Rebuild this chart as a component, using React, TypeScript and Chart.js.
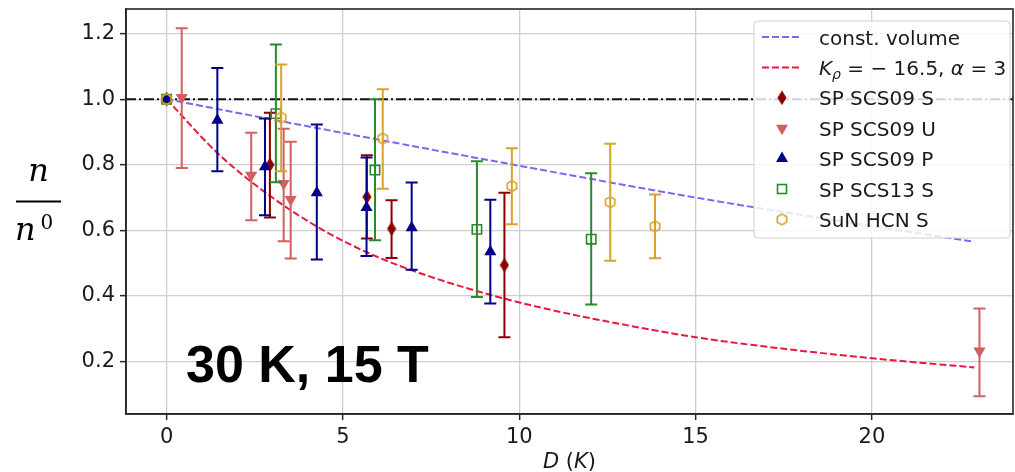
import React, { useEffect, useRef } from "react";
import { Chart, registerables } from "chart.js";

Chart.register(...registerables);

// ---------- axes ----------
const X_MIN = -1.15;
const X_MAX = 24.0;
const Y_MIN = 0.04;
const Y_MAX = 1.275;
const X_TICKS = [0, 5, 10, 15, 20];
const Y_TICKS = [0.2, 0.4, 0.6, 0.8, 1.0, 1.2];

// ---------- model curves ----------
const CV_D = [0, 5, 10, 15, 20, 22.9];
const CV_N = [1.0, 0.897, 0.797, 0.7, 0.613, 0.565];

const K_D = [0, 1.5, 3, 4.5, 6, 7.5, 9.5, 11, 12.5, 15, 17.5, 20, 22.9];
const K_N = [1.0, 0.83, 0.7, 0.597, 0.518, 0.458, 0.394, 0.355, 0.322, 0.274, 0.239, 0.21, 0.182];

// ---------- SP SCS09 S ----------
const S_D = [0, 2.93, 5.68, 6.38, 9.58];
const S_N = [1.0, 0.8, 0.702, 0.605, 0.494];
const S_LO = [1.0, 0.639, 0.575, 0.516, 0.274];
const S_HI = [1.0, 0.959, 0.829, 0.692, 0.715];

// ---------- SP SCS09 U ----------
const U_D = [0.43, 2.4, 3.32, 3.52, 23.05];
const U_N = [1.005, 0.768, 0.743, 0.694, 0.232];
const U_LO = [0.79, 0.631, 0.567, 0.514, 0.094];
const U_HI = [1.216, 0.898, 0.91, 0.87, 0.362];

// ---------- SP SCS09 P ----------
const P_D = [0, 1.44, 2.79, 4.26, 5.67, 6.95, 9.18];
const P_N = [1.0, 0.936, 0.794, 0.715, 0.67, 0.608, 0.535];
const P_LO = [1.0, 0.78, 0.646, 0.511, 0.522, 0.48, 0.377];
const P_HI = [1.0, 1.095, 0.941, 0.923, 0.822, 0.746, 0.693];

// ---------- SP SCS13 S ----------
const Q_D = [0, 3.1, 5.91, 8.8, 12.04];
const Q_N = [1.0, 0.956, 0.784, 0.603, 0.573];
const Q_LO = [1.0, 0.747, 0.57, 0.397, 0.374];
const Q_HI = [1.0, 1.167, 1.0, 0.811, 0.774];

// ---------- SuN HCN S ----------
const H_D = [0, 3.25, 6.13, 9.79, 12.58, 13.85];
const H_N = [1.0, 0.944, 0.88, 0.735, 0.686, 0.612];
const H_LO = [1.0, 0.78, 0.727, 0.619, 0.507, 0.515];
const H_HI = [1.0, 1.106, 1.03, 0.85, 0.864, 0.709];

const C_S = "#8b0000";
const C_U = "#d2605f";
const C_P = "#00008b";
const C_Q = "#2a8a2a";
const C_H = "#d9a22a";
const C_CV = "#7b68ee";
const C_K = "#e8193f";

const DASH = [7, 3];
const DASHDOT = [10, 3, 2, 3];
const TXT = "#1a1a1a";
const SANS = "'DejaVu Sans'";

function makeDiamond(color: string) {
  const c = document.createElement("canvas");
  c.width = 10;
  c.height = 15;
  const g = c.getContext("2d")!;
  g.fillStyle = color;
  g.beginPath();
  g.moveTo(5, 0.3);
  g.lineTo(9.6, 7.5);
  g.lineTo(5, 14.7);
  g.lineTo(0.4, 7.5);
  g.closePath();
  g.fill();
  return c;
}

function makeHexagon(color: string) {
  const c = document.createElement("canvas");
  c.width = 14;
  c.height = 14;
  const g = c.getContext("2d")!;
  g.strokeStyle = color;
  g.lineWidth = 1.6;
  g.beginPath();
  for (let k = 0; k < 6; k++) {
    const a = (Math.PI / 3) * k - Math.PI / 2;
    const px = 7 + 5.4 * Math.cos(a);
    const py = 7 + 5.4 * Math.sin(a);
    if (k === 0) g.moveTo(px, py);
    else g.lineTo(px, py);
  }
  g.closePath();
  g.stroke();
  return c;
}

const pts = (xs: number[], ys: number[]) => xs.map((x, i) => ({ x, y: ys[i] }));

function drawRuns(ctx: CanvasRenderingContext2D, runs: any[], x: number, y: number) {
  let cx = x;
  for (const r of runs) {
    ctx.font = r.font;
    ctx.fillText(r.t, cx, y + (r.dy || 0));
    cx += ctx.measureText(r.t).width;
  }
  return cx - x;
}

function runsWidth(ctx: CanvasRenderingContext2D, runs: any[]) {
  let w = 0;
  for (const r of runs) {
    ctx.font = r.font;
    w += ctx.measureText(r.t).width;
  }
  return w;
}

export default function App() {
  const ref = useRef<HTMLCanvasElement | null>(null);

  useEffect(() => {
    document.body.style.margin = "0";
    const canvas = ref.current!;
    const diamond = makeDiamond(C_S);
    const hexagon = makeHexagon(C_H);

    const errPlugin = {
      id: "errbars",
      beforeDatasetDraw(chart: any, args: any) {
        const ds = chart.data.datasets[args.index];
        if (!ds.errLo) return;
        const { ctx, chartArea, scales } = chart;
        ctx.save();
        ctx.beginPath();
        ctx.rect(chartArea.left, chartArea.top, chartArea.right - chartArea.left, chartArea.bottom - chartArea.top);
        ctx.clip();
        ctx.strokeStyle = ds.errColor;
        ctx.lineWidth = 2;
        ds.data.forEach((p: any, i: number) => {
          const px = scales.x.getPixelForValue(p.x);
          const lo = scales.y.getPixelForValue(ds.errLo[i]);
          const hi = scales.y.getPixelForValue(ds.errHi[i]);
          if (Math.abs(lo - hi) < 0.5) return;
          ctx.beginPath();
          ctx.moveTo(px, lo);
          ctx.lineTo(px, hi);
          ctx.moveTo(px - 6, lo);
          ctx.lineTo(px + 6, lo);
          ctx.moveTo(px - 6, hi);
          ctx.lineTo(px + 6, hi);
          ctx.stroke();
        });
        ctx.restore();
      },
    };

    const decoPlugin = {
      id: "deco",
      afterDraw(chart: any) {
        const { ctx, chartArea } = chart;
        ctx.save();
        // frame
        ctx.strokeStyle = "#262626";
        ctx.lineWidth = 1.6;
        ctx.strokeRect(chartArea.left, chartArea.top, chartArea.right - chartArea.left, chartArea.bottom - chartArea.top);

        // big annotation
        ctx.fillStyle = "#000";
        ctx.font = "bold 52px 'Liberation Sans'";
        ctx.textBaseline = "alphabetic";
        ctx.textAlign = "left";
        ctx.fillText("30 K, 15 T", 186, 382);

        // x label
        ctx.fillStyle = TXT;
        const xl = [
          { t: "D", font: `italic 21px ${SANS}` },
          { t: " (", font: `21px ${SANS}` },
          { t: "K", font: `italic 21px ${SANS}` },
          { t: ")", font: `21px ${SANS}` },
        ];
        const xw = runsWidth(ctx, xl);
        const xc = (chartArea.left + chartArea.right) / 2;
        drawRuns(ctx, xl, xc - xw / 2, 468);

        // y label: n / n^0
        ctx.fillStyle = "#000";
        ctx.font = "italic 32px 'DejaVu Serif'";
        ctx.textAlign = "center";
        ctx.fillText("n", 38.5, 181);
        ctx.fillRect(16, 200.5, 45, 2);
        ctx.textAlign = "left";
        ctx.fillText("n", 15, 240);
        ctx.font = "20px 'DejaVu Serif'";
        ctx.fillText("0", 40.5, 229);

        // legend
        const L = { x0: 754, y0: 21, x1: 1010, y1: 238 };
        ctx.beginPath();
        const r = 4;
        ctx.moveTo(L.x0 + r, L.y0);
        ctx.arcTo(L.x1, L.y0, L.x1, L.y1, r);
        ctx.arcTo(L.x1, L.y1, L.x0, L.y1, r);
        ctx.arcTo(L.x0, L.y1, L.x0, L.y0, r);
        ctx.arcTo(L.x0, L.y0, L.x1, L.y0, r);
        ctx.closePath();
        ctx.fillStyle = "rgba(255,255,255,0.82)";
        ctx.fill();
        ctx.strokeStyle = "#d0d0d0";
        ctx.lineWidth = 1;
        ctx.stroke();

        const rowY = (i: number) => 37 + i * 30.4;
        const mx = 782;
        const tx = 819;
        const lineRow = (i: number, color: string) => {
          ctx.save();
          ctx.strokeStyle = color;
          ctx.lineWidth = 2;
          ctx.setLineDash(DASH);
          ctx.beginPath();
          ctx.moveTo(762, rowY(i));
          ctx.lineTo(802, rowY(i));
          ctx.stroke();
          ctx.restore();
        };
        lineRow(0, C_CV);
        lineRow(1, C_K);
        ctx.drawImage(diamond, mx - diamond.width / 2, rowY(2) - diamond.height / 2);
        ctx.fillStyle = C_U;
        ctx.beginPath();
        ctx.moveTo(mx - 6, rowY(3) - 3.4);
        ctx.lineTo(mx + 6, rowY(3) - 3.4);
        ctx.lineTo(mx, rowY(3) + 7);
        ctx.closePath();
        ctx.fill();
        ctx.fillStyle = C_P;
        ctx.beginPath();
        ctx.moveTo(mx - 6, rowY(4) + 3.4);
        ctx.lineTo(mx + 6, rowY(4) + 3.4);
        ctx.lineTo(mx, rowY(4) - 7);
        ctx.closePath();
        ctx.fill();
        ctx.strokeStyle = C_Q;
        ctx.lineWidth = 1.6;
        ctx.strokeRect(mx - 4.5, rowY(5) - 4.5, 9, 9);
        ctx.drawImage(hexagon, mx - hexagon.width / 2, rowY(6) - hexagon.height / 2);

        ctx.fillStyle = TXT;
        ctx.textAlign = "left";
        ctx.textBaseline = "alphabetic";
        const base = (i: number) => rowY(i) + 7.5;
        const labels = chart.data.datasets
          .filter((d: any) => d.legendRow !== undefined)
          .sort((a: any, b: any) => a.legendRow - b.legendRow);
        labels.forEach((d: any) => {
          if (d.legendRow === 1) {
            drawRuns(
              ctx,
              [
                { t: "K", font: `italic 20px ${SANS}` },
                { t: "ρ", font: `italic 14px ${SANS}`, dy: 4 },
                { t: " = − 16.5, ", font: `20px ${SANS}` },
                { t: "α", font: `italic 20px ${SANS}` },
                { t: " = 3", font: `20px ${SANS}` },
              ],
              tx,
              base(1)
            );
          } else {
            ctx.font = `20px ${SANS}`;
            ctx.fillText(d.label, tx, base(d.legendRow));
          }
        });
        ctx.restore();
      },
    };

    const tickFont = { family: "DejaVu Sans", size: 21 };
    const zeroPad = (s: any) => {
      s.paddingLeft = 0;
      s.paddingRight = 0;
      s.paddingTop = 0;
      s.paddingBottom = 0;
    };

    const options: any = {
      animation: false,
      responsive: false,
      events: [],
      layout: { autoPadding: false, padding: { top: 9, right: 2, left: 0, bottom: 0 } },
      plugins: { legend: { display: false }, tooltip: { enabled: false } },
      scales: {
        x: {
          type: "linear",
          min: X_MIN,
          max: X_MAX,
          afterBuildTicks: (s: any) => {
            s.ticks = X_TICKS.map((v) => ({ value: v }));
          },
          afterFit: (s: any) => {
            s.height = 58;
            zeroPad(s);
          },
          ticks: { font: tickFont, color: TXT, padding: 5, maxRotation: 0, callback: (v: any) => String(v) },
          grid: { color: "#cfcfcf", lineWidth: 1.3, tickColor: "#262626", tickLength: 6, tickWidth: 1.5 },
          border: { color: "#262626", width: 1.6 },
        },
        y: {
          type: "linear",
          min: Y_MIN,
          max: Y_MAX,
          afterBuildTicks: (s: any) => {
            s.ticks = Y_TICKS.map((v) => ({ value: v }));
          },
          afterFit: (s: any) => {
            s.width = 126;
            zeroPad(s);
          },
          ticks: { font: tickFont, color: TXT, padding: 5, callback: (v: any) => Number(v).toFixed(1) },
          grid: { color: "#cfcfcf", lineWidth: 1.3, tickColor: "#262626", tickLength: 6, tickWidth: 1.5 },
          border: { color: "#262626", width: 1.6 },
        },
      },
    };

    const chart = new Chart(canvas, {
      type: "scatter",
      data: {
        datasets: [
          {
            label: "SuN HCN S",
            legendRow: 6,
            data: pts(H_D, H_N),
            errLo: H_LO,
            errHi: H_HI,
            errColor: C_H,
            pointStyle: hexagon,
            pointRadius: 6,
            order: 1,
          },
          {
            label: "SP SCS13 S",
            legendRow: 5,
            data: pts(Q_D, Q_N),
            errLo: Q_LO,
            errHi: Q_HI,
            errColor: C_Q,
            pointStyle: "rect",
            pointRadius: 6.6,
            pointBorderWidth: 1.6,
            pointBorderColor: C_Q,
            pointBackgroundColor: "rgba(0,0,0,0)",
            order: 2,
          },
          {
            label: "SP SCS09 P",
            legendRow: 4,
            data: pts(P_D, P_N),
            errLo: P_LO,
            errHi: P_HI,
            errColor: C_P,
            pointStyle: "triangle",
            pointRadius: 7,
            pointBorderWidth: 0,
            pointBackgroundColor: C_P,
            pointBorderColor: C_P,
            order: 3,
          },
          {
            label: "SP SCS09 U",
            legendRow: 3,
            data: pts(U_D, U_N),
            errLo: U_LO,
            errHi: U_HI,
            errColor: C_U,
            pointStyle: "triangle",
            rotation: 180,
            pointRadius: 7,
            pointBorderWidth: 0,
            pointBackgroundColor: C_U,
            pointBorderColor: C_U,
            order: 4,
          },
          {
            label: "SP SCS09 S",
            legendRow: 2,
            data: pts(S_D, S_N),
            errLo: S_LO,
            errHi: S_HI,
            errColor: C_S,
            pointStyle: diamond,
            pointRadius: 6,
            order: 5,
          },
          {
            label: "ref",
            data: [
              { x: X_MIN, y: 1 },
              { x: X_MAX, y: 1 },
            ],
            showLine: true,
            borderColor: "#111",
            borderWidth: 2,
            borderDash: DASHDOT,
            pointRadius: 0,
            order: 6,
          },
          {
            label: "K_rho = -16.5, alpha = 3",
            legendRow: 1,
            data: pts(K_D, K_N),
            showLine: true,
            cubicInterpolationMode: "monotone",
            borderColor: C_K,
            borderWidth: 2,
            borderDash: DASH,
            pointRadius: 0,
            order: 7,
          },
          {
            label: "const. volume",
            legendRow: 0,
            data: pts(CV_D, CV_N),
            showLine: true,
            cubicInterpolationMode: "monotone",
            borderColor: C_CV,
            borderWidth: 2,
            borderDash: DASH,
            pointRadius: 0,
            order: 8,
          },
        ] as any,
      },
      options,
      plugins: [errPlugin, decoPlugin],
    });

    return () => chart.destroy();
  }, []);

  return (
    <div style={{ width: 1015, height: 472, background: "#fff" }}>
      <canvas ref={ref} width={1015} height={472} />
    </div>
  );
}
